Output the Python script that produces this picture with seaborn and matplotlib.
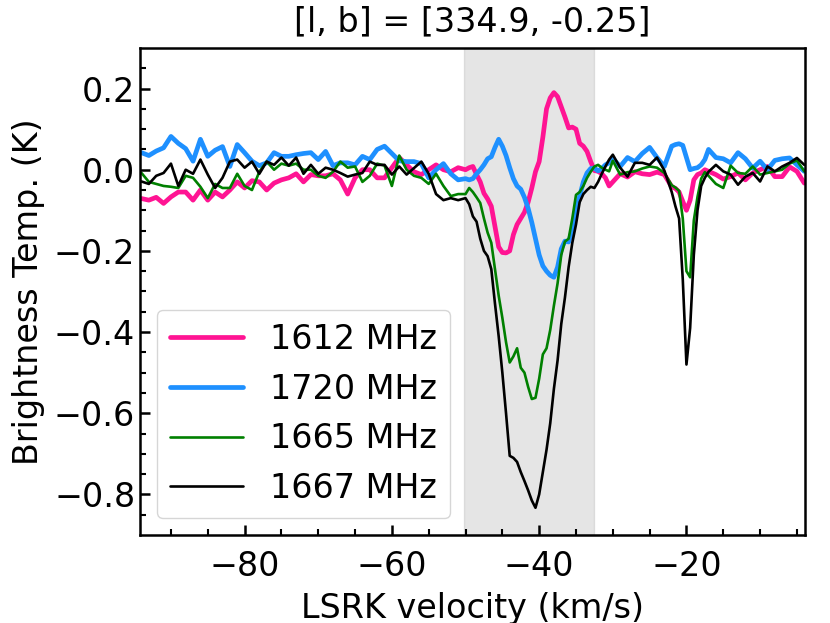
import numpy as np
import pandas as pd
import matplotlib
matplotlib.use("Agg")
import matplotlib.pyplot as plt
import seaborn as sns

# -----------------------------
# Data
# -----------------------------
velocity = np.concatenate([
    np.arange(-94, -50, 1.0),     # -94 .. -51
    np.arange(-50, -29.5, 0.5),   # -50 .. -30 (absorption)
    np.arange(-29, -22, 1.0),     # -29 .. -23
    np.arange(-22, -16.5, 0.5),   # -22 .. -17 (narrow line)
    np.arange(-16, -3, 1.0),      # -16 .. -4
])

t1612 = [
    -0.071, -0.075, -0.068, -0.083, -0.067, -0.055, -0.055, -0.075, -0.05, -0.075,
    -0.055, -0.067, -0.05, -0.03, -0.045, -0.027, -0.03, -0.05, -0.033, -0.025,
    -0.02, -0.01, -0.03, -0.012, -0.015, -0.015, -0.01, -0.025, -0.06, -0.02,
    0.0, 0.0, -0.02, -0.02, 0.005, 0.03, 0.012, -0.005, -0.012, 0.0,
    0.012, 0.0, -0.005, 0.005,
    0.0, 0.005, 0.008, -0.012, -0.03, -0.058, -0.072, -0.09, -0.14, -0.19,
    -0.204, -0.205, -0.2, -0.16, -0.135, -0.12, -0.105, -0.08, -0.045, -0.005,
    0.02, 0.08, 0.15, 0.177, 0.19, 0.18, 0.155, 0.13, 0.103, 0.105,
    0.1, 0.065, 0.058, 0.045, 0.02, -0.002, -0.004, -0.01, -0.02, -0.04,
    -0.03,
    -0.01, -0.018, -0.005, -0.01, -0.012, -0.006, -0.012,
    -0.042, -0.046, -0.055, -0.078, -0.1, -0.075, -0.025, -0.012, -0.008, 0.0, -0.004,
    -0.012, -0.023, -0.017, -0.008, -0.025, -0.008, 0.0, 0.008, -0.017, -0.017,
    0.007, -0.004, -0.033,
]

t1720 = [
    0.042, 0.035, 0.046, 0.054, 0.082, 0.065, 0.052, 0.021, 0.075, 0.033,
    0.048, 0.057, 0.008, 0.062, 0.042, 0.021, 0.01, 0.017, 0.042, 0.033,
    0.033, 0.037, 0.04, 0.042, 0.025, 0.045, 0.01, 0.017, 0.017, 0.012,
    0.033, 0.025, 0.05, 0.058, 0.04, 0.022, 0.02, 0.02, 0.015, -0.02,
    0.0, 0.015, -0.01, -0.025,
    -0.022, -0.025, -0.022, -0.01, 0.0, 0.012, 0.027, 0.032, 0.055, 0.075,
    0.058, 0.035, 0.005, -0.022, -0.04, -0.048, -0.068, -0.095, -0.13, -0.17,
    -0.21, -0.237, -0.25, -0.26, -0.265, -0.24, -0.195, -0.176, -0.178, -0.15,
    -0.1, -0.065, -0.03, -0.008, 0.003, 0.004, -0.003, 0.003, 0.012, 0.017,
    0.027,
    0.008, 0.03, 0.02, 0.04, 0.055, 0.03, 0.008,
    0.058, 0.062, 0.064, 0.06, 0.03, 0.0, 0.003, 0.005, 0.012, 0.025, 0.05,
    0.03, 0.027, 0.017, 0.042, 0.027, 0.004, 0.021, 0.0, 0.023, 0.027,
    0.029, 0.012, -0.004,
]

t1665 = [
    -0.008, -0.03, -0.035, -0.04, -0.042, -0.045, -0.015, -0.02, -0.042, -0.07,
    -0.035, -0.045, -0.045, -0.01, -0.04, -0.05, -0.005, 0.02, 0.0, 0.015,
    0.01, 0.015, 0.0, 0.0, -0.015, -0.02, -0.005, 0.02, 0.005, 0.008,
    -0.03, -0.015, 0.015, 0.01, -0.04, 0.035, 0.0, -0.015, -0.02, -0.035,
    -0.01, -0.04, -0.065, -0.06,
    -0.06, -0.045, -0.055, -0.068, -0.082, -0.12, -0.155, -0.18, -0.245, -0.31,
    -0.365, -0.425, -0.475, -0.46, -0.44, -0.488, -0.5, -0.535, -0.565, -0.562,
    -0.515, -0.455, -0.44, -0.395, -0.335, -0.28, -0.21, -0.177, -0.17, -0.12,
    -0.062, -0.055, -0.04, -0.02, -0.005, 0.008, 0.012, 0.005, 0.0, -0.004,
    0.022,
    -0.012, -0.006, -0.004, 0.003, 0.008, 0.005, -0.008,
    -0.038, -0.044, -0.052, -0.12, -0.25, -0.265, -0.125, -0.067, -0.022, -0.006, -0.015,
    -0.035, -0.045, 0.01, -0.008, -0.01, 0.008, -0.012, -0.008, -0.004, 0.0,
    0.015, 0.023, -0.004,
]

t1667 = [
    -0.029, -0.035, -0.015, -0.008, 0.015, -0.04, 0.0, -0.01, 0.025, -0.012,
    -0.045, -0.02, 0.02, 0.025, 0.005, 0.02, -0.01, 0.02, 0.012, 0.03,
    0.01, 0.03, -0.01, 0.012, -0.01, 0.005, 0.0, -0.008, -0.017, -0.012,
    -0.008, 0.02, 0.012, 0.012, -0.012, 0.008, -0.012, 0.004, 0.02, -0.01,
    -0.06, -0.075, -0.07, -0.075,
    -0.07, -0.085, -0.115, -0.128, -0.17, -0.2, -0.213, -0.245, -0.33, -0.41,
    -0.5, -0.6, -0.705, -0.71, -0.72, -0.745, -0.767, -0.79, -0.815, -0.833,
    -0.8, -0.745, -0.69, -0.625, -0.54, -0.47, -0.38, -0.315, -0.24, -0.18,
    -0.135, -0.08, -0.06, -0.05, -0.042, -0.045, -0.03, -0.01, 0.008, 0.025,
    0.037,
    0.005, -0.017, 0.017, 0.017, 0.012, 0.03, -0.002,
    -0.055, -0.09, -0.12, -0.27, -0.48, -0.39, -0.21, -0.1, -0.04, -0.02, -0.005,
    0.012, -0.004, -0.012, -0.037, -0.017, -0.008, -0.029, 0.008, -0.004, 0.008,
    0.017, 0.029, 0.012,
]

line_names = ["1612 MHz", "1720 MHz", "1665 MHz", "1667 MHz"]
line_colors = ["#ff1493", "#1e90ff", "green", "black"]
line_widths = [3.4, 3.4, 1.9, 1.9]

title = "[l, b] = [334.9, -0.25]"
window = (-50.2, -32.5)

df = pd.DataFrame({"velocity": velocity, "1612 MHz": t1612, "1720 MHz": t1720,
                   "1665 MHz": t1665, "1667 MHz": t1667})

# -----------------------------
# Plot
# -----------------------------
sns.set_theme(style="ticks")
plt.rcParams['font.family'] = ['DejaVu Sans']
plt.rcParams['text.color'] = 'black'
plt.rcParams['axes.labelcolor'] = 'black'

fig = plt.figure(figsize=(8.3, 6.23), dpi=100)
ax = fig.add_axes([0.1687, 0.1413, 0.8012, 0.7817])

ax.axvspan(window[0], window[1], color='gray', alpha=0.2, zorder=0)

for name, color, lw in zip(line_names, line_colors, line_widths):
    sns.lineplot(data=df, x="velocity", y=name, color=color, lw=lw,
                 label=name, ax=ax)

ax.set_xlim(-94.2, -3.9)
ax.set_ylim(-0.9, 0.3)
ax.set_xticks([-80, -60, -40, -20])
ax.set_xticks(np.arange(-90, -4, 5), minor=True)
ax.set_yticks([-0.8, -0.6, -0.4, -0.2, 0.0, 0.2])
ax.set_yticks(np.arange(-0.85, 0.3, 0.05), minor=True)
ax.tick_params(which='both', direction='in', labelsize=24, colors='black',
               top=False, right=False)
ax.tick_params(which='major', length=7, width=1.8)
ax.tick_params(which='minor', length=4, width=1.5)
ax.tick_params(axis='x', which='major', pad=11)
for sp in ax.spines.values():
    sp.set_linewidth(1.8)
    sp.set_color('black')

ax.set_xlabel("LSRK velocity (km/s)", fontsize=24, labelpad=6)
ax.set_ylabel("Brightness Temp. (K)", fontsize=24, labelpad=6)
ax.set_title(title, fontsize=24, pad=12)

leg = ax.legend(loc='lower left', fontsize=24, handlelength=2.2, edgecolor='0.8',
                framealpha=0.8)
for txt in leg.get_texts():
    txt.set_color('black')

fig.savefig("out.png", dpi=100)
